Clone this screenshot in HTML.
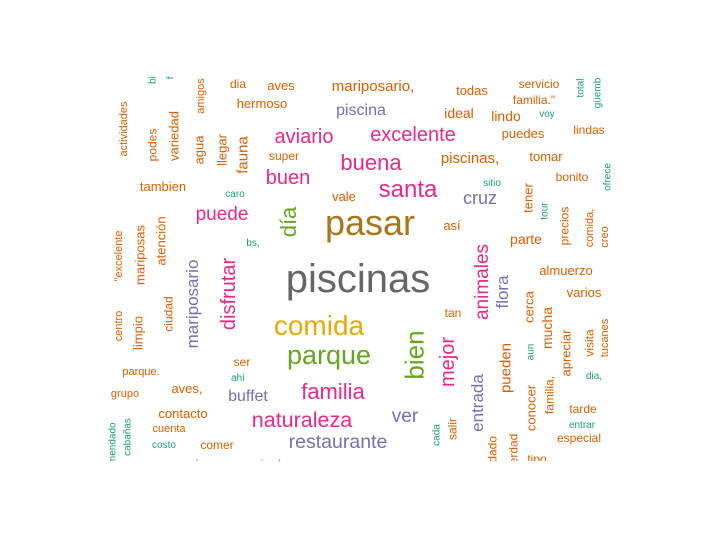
<!DOCTYPE html>
<html><head><meta charset="utf-8"><style>
html,body{margin:0;padding:0;background:#fff;width:717px;height:558px;overflow:hidden}
svg text{font-family:"Liberation Sans",sans-serif}
</style></head><body>
<svg id="cloud" width="717" height="558" xmlns="http://www.w3.org/2000/svg">
<defs><clipPath id="clip"><rect x="100" y="76" width="520" height="385"/></clipPath></defs>
<g id="words" clip-path="url(#clip)"></g>
</svg>
<script>
const O="#D95F02",P="#E7298A",U="#7570B3",T="#1B9E77",G="#66A61E",Y="#E6AB02",B="#A6761D",R="#666666";
// word, cx, y, size, color, vertical
const words=[
["piscinas",358,292,40,R,0],["pasar",370,235,36,B,0],["comida",319,335,28,Y,0],["parque",329,364,27,G,0],
["familia",333,399,22,P,0],["naturaleza",302,427,21.5,P,0],["restaurante",338,448,19.5,U,0],["ver",405,422,19,U,0],
["buffet",248,401,16,U,0],["santa",408,197,24,P,0],["buena",371,170,22,P,0],["excelente",413,141,20,P,0],
["aviario",304,143,20,P,0],["buen",288,184,20,P,0],["puede",222,220,19,P,0],["cruz",480,204,18,U,0],
["piscina",361,115,16,U,0],["mariposario,",373,91,15,O,0],["hermoso",262,108,13,O,0],["aves",281,90,13,O,0],
["dia",238,88,12,O,0],["super",284,160,12,O,0],["tambien",163,191,13,O,0],["vale",344,201,13,O,0],
["caro",235,197,10,T,0],["bs,",253,246,10,T,0],["todas",472,95,13,O,0],["servicio",539,88,12,O,0],
["familia.\"",534,104,12,O,0],["voy",547,117,10,T,0],["ideal",459,118,14,O,0],["lindo",506,121,14,O,0],
["puedes",523,138,13,O,0],["lindas",589,134,12,O,0],["piscinas,",470,163,15,O,0],["tomar",546,161,13,O,0],
["bonito",572,181,12,O,0],["sitio",492,186,10,T,0],["así",452,230,13,O,0],["parte",526,244,14,O,0],
["almuerzo",566,275,13,O,0],["varios",584,297,13,O,0],["tan",453,317,12,O,0],["dia,",594,379,10,T,0],
["tarde",583,413,12,O,0],["entrar",582,428,10,T,0],["especial",579,442,12,O,0],["tipo",537,463,12,O,0],
["ser",242,366,12,O,0],["ahí",238,381,10,T,0],["parque.",141,375,11,O,0],["grupo",125,397,11,O,0],
["aves,",187,393,13,O,0],["contacto",183,418,13,O,0],["cuenta",169,432,11,O,0],["costo",164,448,10,T,0],
["comer",217,449,12,O,0],["muchas",194,468,12,O,0],["mirador",271,468,12,O,0],
["día",288,222,22,G,1],["disfrutar",228,294,20,P,1],["mariposario",192,304,17,U,1],["bien",414,355,26,G,1],
["mejor",447,362,20,P,1],["animales",481,282,19,P,1],["flora",502,292,17,U,1],["entrada",477,403,17,U,1],
["pueden",505,368,15,O,1],["cerca",529,307,13,O,1],["mucha",547,328,14,O,1],["aun",530,352,10,T,1],
["apreciar",566,353,13,O,1],["visita",589,343,12,O,1],["tucanes",604,338,11,O,1],["familia,",549,395,12,O,1],
["conocer",531,408,13,O,1],["salir",452,429,12,O,1],["cada",436,435,10,T,1],["tener",528,198,13,O,1],
["tour",544,211,10,T,1],["precios",564,226,12,O,1],["comida,",589,228,11,O,1],["creo",604,237,11,O,1],
["ofrece",607,177,10,T,1],["total",580,88,10,T,1],["güemb",597,93,10,T,1],["actividades",123,129,11,O,1],
["podes",152,145,12,O,1],["variedad",174,136,13,O,1],["amigos",200,96,11,O,1],["agua",199,150,13,O,1],
["llegar",222,150,13,O,1],["fauna",242,155,15,O,1],["bi",152,80,10,T,1],["f",170,78,10,T,1],
["\"excelente",118,256,11,O,1],["mariposas",140,255,13,O,1],["atención",161,241,13,O,1],["centro",118,326,11,O,1],
["limpio",138,333,13,O,1],["ciudad",168,314,12,O,1],["cabañas",127,437,10,T,1],["recomendado",112,453,10,T,1],
["cuidado",492,457,12,O,1],["verdad",513,452,12,O,1]
];
const g=document.getElementById('words');
const NS="http://www.w3.org/2000/svg";
words.forEach(w=>{
  const t=document.createElementNS(NS,'text');
  
  
  t.setAttribute('font-size',w[3]);
  t.setAttribute('fill',w[4]);
  t.setAttribute('text-anchor','middle');
  if(w[5]){
    t.setAttribute('x',0);t.setAttribute('y',w[3]*0.36);
    t.setAttribute('transform','translate('+w[1]+','+w[2]+') rotate(-90)');
  } else {
    t.setAttribute('x',w[1]);t.setAttribute('y',w[2]);
  }
  t.textContent=w[0];
  g.appendChild(t);
});
</script>
</body></html>
